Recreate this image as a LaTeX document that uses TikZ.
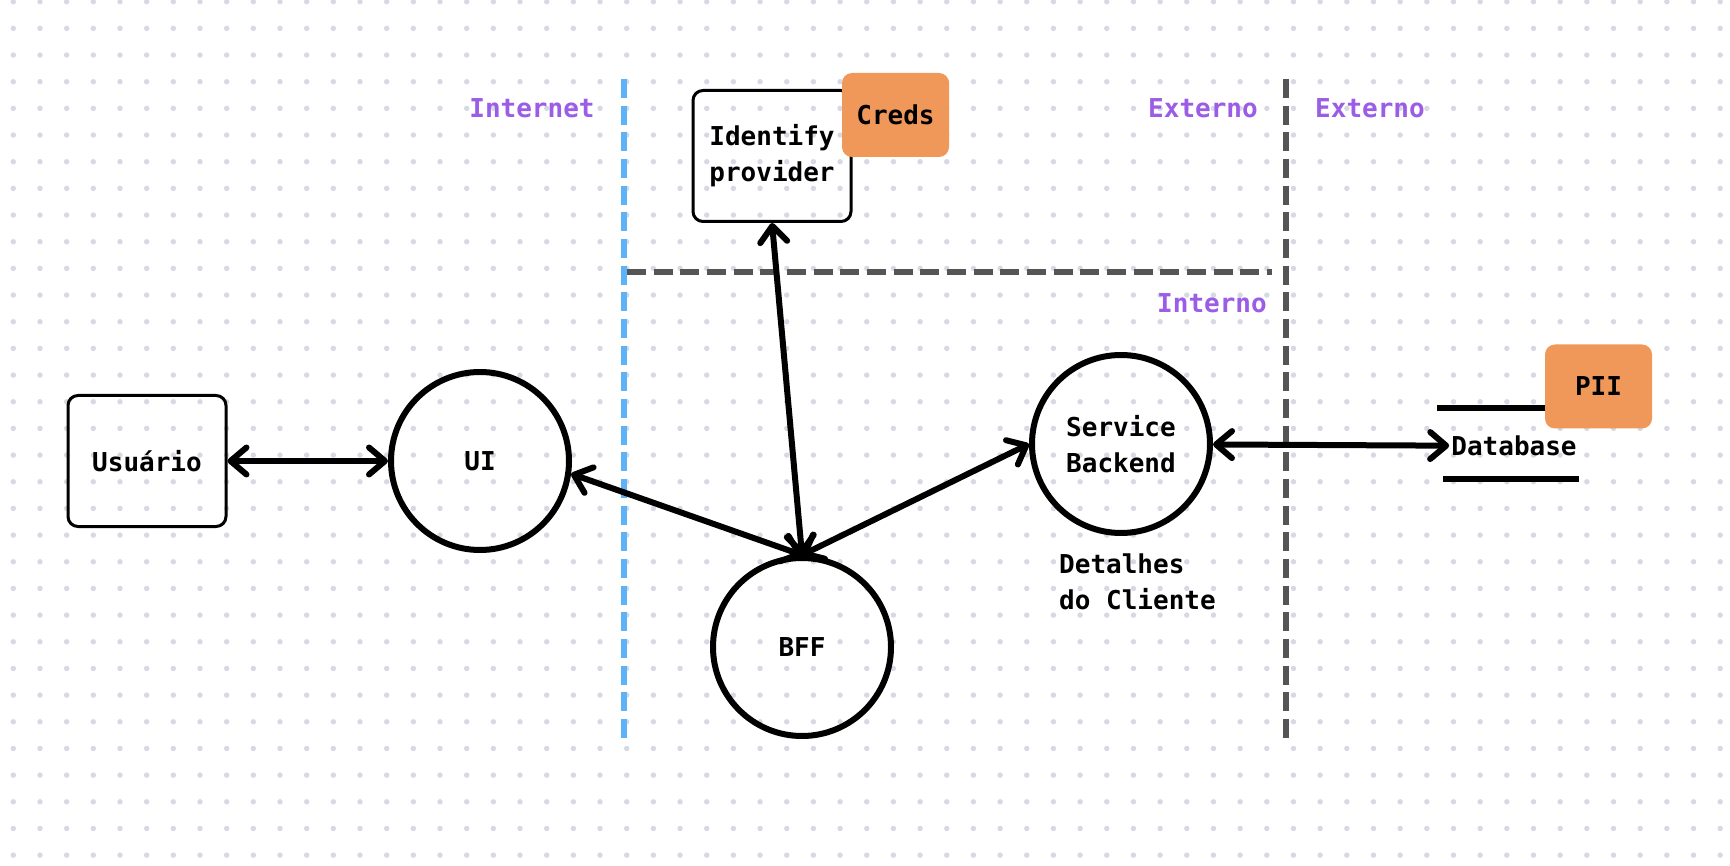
\documentclass[tikz,border=0pt]{standalone}
\usepackage{fontspec}
\setmainfont{DejaVu Sans Mono}
\usetikzlibrary{arrows.meta,positioning}
\definecolor{dotgray}{HTML}{D5D9E1}
\definecolor{zonepurple}{HTML}{9B5DE5}
\definecolor{edgeblue}{HTML}{5EB2F7}
\definecolor{edgegray}{HTML}{555555}
\definecolor{tagorange}{HTML}{F0975A}

\begin{document}
\begin{tikzpicture}[
		x=1pt,y=-1pt,
		every node/.style={
			font=\fontsize{26}{36}\selectfont\bfseries
		},
		box/.style={draw,rectangle,rounded corners=10pt,line width=3pt,
			minimum width=158pt,align=center
		},
		proc/.style={draw,circle,line width=6pt,minimum size=178pt,inner sep=0,align=center
		},
		tag/.style={
			fill=tagorange,
			rounded corners=10pt,
			minimum width=107pt,
			minimum height=84pt
		},
		zone/.style={text=zonepurple},
		boundary/.style={line width=6pt,draw=edgegray,dash pattern=on 19pt off 7.67pt},
		barb/.tip={Straight Barb[length=16pt,width=27pt,round]},
		conn/.style={line width=6pt,barb-barb}
		]
		\fill[white] (0,0) rectangle (1730,866);
		\useasboundingbox (0,0) rectangle (1730,866);
		% Dot grid
		\foreach \i in {0,...,64}
		{\foreach \j in {0,...,32}
			\fill[dotgray] (13.3+26.67*\i,1.7+26.67*\j) circle (2.7pt);
		}
		% Trust boundaries
		\draw[boundary,draw=edgeblue] (624,79) -- (624,740);
		\draw[boundary] (1286,79) -- (1286,740);
		\draw[boundary] (627,272) -- (1272,272);
		% Zone labels
		\node[zone] (internet) at (532,108) {Internet};
		\node[zone] (externo1) at (1203,108) {Externo};
		\node[zone] (externo2) at (1370,108) {Externo};
		\node[zone] (interno) at (1212,303) {Interno};
		% Processes and entities
		\node[box,minimum height=131pt] (usuario) at (147,461) {Usuário};
		\node[proc] (ui) at (480,461) {UI};
		\node[proc] (bff) at (802,647) {BFF};
		\node[proc] (service) at (1121,444) {Service\\Backend};
		\node[inner sep=0pt,anchor=west] (detalhes) at (1059,584)
			{\begin{tabular}{@{}l@{}}Detalhes\\do~Cliente\end{tabular}};
		\node[box,minimum height=131pt] (idp) at (772,156) {Identify\\provider};
		\node[tag] (creds) at (895.5,115) {Creds};
		% Data store
		\draw[line width=6pt] (1437,408) -- (1545,408);
		\draw[line width=6pt] (1443,479) -- (1579,479);
		\node[inner sep=2pt] (db) at (1514,446) {Database};
		\node[tag] (pii) at (1598.5,386.5) {PII};
		% Flows
		\draw[conn] (usuario) -- (ui);
		\draw[conn] (bff.north) -- (ui.-8);
		\draw[conn] (bff.north) -- (service.west);
		\draw[conn] (idp.south) -- (bff.north);
		\draw[conn] (service) -- (db);
\end{tikzpicture}
\end{document}
